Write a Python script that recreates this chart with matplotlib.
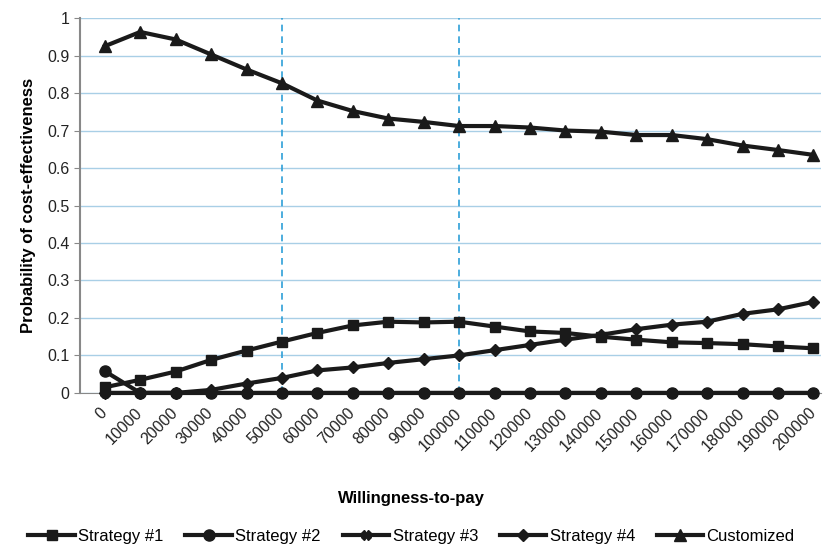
import matplotlib
matplotlib.use('Agg')
import matplotlib.pyplot as plt
import matplotlib.transforms as mtransforms
import numpy as np

plt.rcParams['font.family'] = ['Liberation Sans', 'DejaVu Sans']

wtp = [0, 10000, 20000, 30000, 40000, 50000, 60000, 70000, 80000, 90000, 100000,
       110000, 120000, 130000, 140000, 150000, 160000, 170000, 180000, 190000, 200000]

strategy1 = [0.015, 0.035, 0.057, 0.088, 0.113, 0.137, 0.160, 0.180, 0.190, 0.188, 0.190,
             0.177, 0.164, 0.160, 0.150, 0.142, 0.135, 0.133, 0.130, 0.124, 0.119]
strategy2 = [0.058] + [0.0] * 20
strategy3 = [0.0] * 21
strategy4 = [0.0, 0.0, 0.0, 0.008, 0.025, 0.040, 0.060, 0.068, 0.080, 0.090, 0.100,
             0.114, 0.128, 0.142, 0.155, 0.170, 0.182, 0.190, 0.211, 0.223, 0.243]
customized = [0.925, 0.963, 0.943, 0.903, 0.863, 0.826, 0.780, 0.752, 0.732, 0.723, 0.712,
              0.712, 0.708, 0.700, 0.697, 0.688, 0.688, 0.677, 0.660, 0.648, 0.635]

thresholds = [50000, 100000]

fig = plt.figure(figsize=(8.23, 5.48), dpi=100)
ax = fig.add_axes([0.097, 0.283, 0.9, 0.684])

x = np.arange(len(wtp))
col = '#1a1a1a'
series = [
    (strategy1, 's', 'Strategy #1', 7),
    (strategy2, 'o', 'Strategy #2', 8),
    (strategy3, 'X', 'Strategy #3', 7),
    (strategy4, 'D', 'Strategy #4', 6.5),
    (customized, '^', 'Customized', 8),
]
for vals, m, lab, ms in series:
    ax.plot(x, vals, color=col, lw=3, marker=m, markersize=ms, label=lab,
            clip_on=False, zorder=3)

for t in thresholds:
    ax.axvline(wtp.index(t), color='#2E9FD8', lw=1.2, ls=(0, (4, 3)), zorder=2)

ax.set_ylim(0, 1)
ax.set_xlim(-0.704, 20.2)
ax.set_yticks(np.arange(0, 1.01, 0.1))
ax.set_yticklabels(['0'] + ['%.1f' % v for v in np.arange(0.1, 0.95, 0.1)] + ['1'])
ax.yaxis.grid(True, color='#A9CFE6', lw=1)
ax.set_axisbelow(True)
ax.set_xticks(x)
ax.set_xticklabels([str(v) for v in wtp], rotation=45, ha='right', rotation_mode='anchor')
ax.tick_params(axis='both', labelsize=11.5, colors='#222222', length=4, color='#888888')
ax.tick_params(axis='x', length=0, pad=9)
# nudge the rotated labels a little left so the last one stays inside
shift = mtransforms.ScaledTranslation(-4 / 72, 0, fig.dpi_scale_trans)
for lbl in ax.get_xticklabels():
    lbl.set_transform(lbl.get_transform() + shift)

for s in ['top', 'right']:
    ax.spines[s].set_visible(False)
ax.spines['left'].set_color('#888888')
ax.spines['bottom'].set_color('#888888')
ax.spines['left'].set_linewidth(1.5)

ax.set_ylabel('Probability of cost-effectiveness', fontsize=12, fontweight='bold', labelpad=8)
fig.text(0.5, 0.083, 'Willingness-to-pay', fontsize=12, fontweight='bold', ha='center')

fig.legend(loc='lower center', bbox_to_anchor=(0.5, -0.02), ncol=5, frameon=False,
           fontsize=12, handlelength=2.8, columnspacing=1.3, handletextpad=0.2)

fig.savefig('out.png', dpi=100)
